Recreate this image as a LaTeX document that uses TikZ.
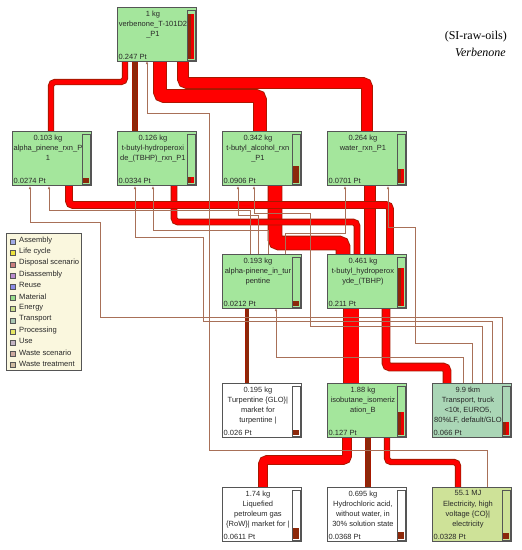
\documentclass[tikz,border=0pt]{standalone}
\usepackage{fontspec}
\setmainfont{Liberation Sans}
\newfontfamily\titlefont{Liberation Serif}
\usetikzlibrary{positioning,arrows.meta}

\definecolor{procgreen}{RGB}{164,230,156}
\definecolor{transgreen}{RGB}{170,214,182}
\definecolor{elecgreen}{RGB}{206,226,152}
\definecolor{boxgray}{RGB}{85,85,85}
\definecolor{flowred}{RGB}{255,0,0}
\definecolor{flowdark}{RGB}{165,25,0}
\definecolor{flowbrown}{RGB}{140,40,10}
\definecolor{linkbrown}{RGB}{168,112,88}
\definecolor{barbrown}{RGB}{140,40,10}
\definecolor{barred}{RGB}{235,0,0}
\definecolor{legendbg}{RGB}{250,247,222}
\definecolor{textdark}{RGB}{40,40,40}

% impact bar on the right side of a process box
\newcommand*{\impactbar}[3]{%
  \fill[barbrown] ([xshift=-9pt,yshift=3pt]#1.south east) rectangle ([xshift=-3pt,yshift={3pt+#2*45pt}]#1.south east);
  \ifnum#3=1
    \fill[barred] ([xshift=-6pt,yshift=3pt]#1.south east) rectangle ([xshift=-3pt,yshift={3pt+#2*45pt}]#1.south east);
  \fi
  \draw[barframe] ([xshift=-10pt,yshift=2pt]#1.south east) rectangle ([xshift=-2pt,yshift=-3pt]#1.north east);}

% process box: name, x, y, fill, text, score, bar fraction, red part
\newcommand*{\unitproc}[8]{%
  \node[proc, fill=#4] (#1) at (#2,#3) {};
  \node[boxtext, below=3.5pt of #1.north, xshift=-4pt] (#1txt) {#5};
  \node[score] (#1pt) at ([xshift=1.5pt,yshift=2.5pt]#1.south west) {#6};
  \impactbar{#1}{#7}{#8}}

\begin{document}
\begin{tikzpicture}
[
	x=1pt,y=-1pt,
	proc/.style={draw=boxgray,line width=0.9pt,rectangle,inner sep=0pt,minimum width=79pt,minimum height=54pt,anchor=north west},
	boxtext/.style={font=\fontsize{7.5}{10.2}\selectfont,align=center,inner sep=0pt,text=textdark},
	score/.style={font=\fontsize{7.5}{8}\selectfont,anchor=south west,inner sep=0pt,text=textdark},
	barframe/.style={draw=boxgray,line width=0.8pt},
	flow/.style={draw=flowdark,double=flowred,line width=0.9pt,double distance=#1,rounded corners=4pt},
	brownflow/.style={draw=flowdark,double=flowbrown,line width=0.6pt,double distance=#1,rounded corners=3pt},
	link/.style={draw=linkbrown,line width=0.6pt,-{Latex[length=3pt,width=2.6pt]}},
	legtext/.style={font=\fontsize{7.6}{8}\selectfont,anchor=west,inner sep=0pt,text=textdark}
]

	\useasboundingbox[fill=white] (0,0) rectangle (522,550);

	% title
	\node[font=\titlefont\fontsize{12}{13}\selectfont,anchor=east,inner sep=0pt] (title) at (507,37) {(SI-raw-oils)};
	\node[font=\titlefont\itshape\fontsize{12}{13}\selectfont,anchor=east,inner sep=0pt] (subtitle) at (506,52) {Verbenone};

	% legend
	\node[draw=boxgray,line width=0.8pt,fill=legendbg,minimum width=75pt,minimum height=137pt,anchor=north west] (legend) at (6,233) {};
	\foreach \lab/\col [count=\i from 0] in {Assembly/{160,170,230},Life cycle/{235,225,60},Disposal scenario/{200,125,125},Disassembly/{185,140,205},Reuse/{140,140,230},Material/{150,220,140},Energy/{200,220,140},Transport/{170,200,180},Processing/{230,230,100},Use/{195,180,195},Waste scenario/{205,170,160},Waste treatment/{205,185,160}}
	{
		\definecolor{legcol}{RGB}{\col}
		\node[draw=boxgray,line width=0.5pt,fill=legcol,minimum size=5pt,inner sep=0pt] (leg\i) at (12.5,{242+11.2*\i}) {};
		\node[legtext] (legt\i) at (19,{240.5+11.2*\i}) {\lab};
	}

	% connectors (drawn first, boxes on top)
	% big flows into verbenone
	\draw[flow=4.5pt] (51,131) |- (125,82) -- (125,61);
	\draw[brownflow=4.5pt] (135,131) -- (135,61);
	\draw[flow=12pt] (260,131) |- (160,96) -- (160,61);
	\draw[flow=10pt] (367,131) |- (183,83) -- (183,61);

	% tbhp outputs
	\draw[flow=13pt] (343,254) |- (275,243) -- (275,186);
	\draw[flow=5pt] (357,254) |- (174,222) -- (174,186);
	\draw[flow=10pt] (370,254) -- (370,186);
	\draw[flow=6pt] (390,254) |- (69,205) -- (69,186);

	% into tbhp
	\draw[flow=15pt] (351,383) -- (351,308);
	\draw[flow=7pt] (447,383) |- (386,367) -- (386,308);

	% into isobutane
	\draw[flow=8pt] (263,487) |- (347,460) -- (347,437);
	\draw[brownflow=4.5pt] (368,487) -- (368,437);
	\draw[flow=4.5pt] (458,487) |- (387,462) -- (387,437);

	% turpentine into alpha-pinene
	\draw[brownflow=3pt] (247,383) -- (247,308);

	% thin links from transport
	\draw[link] (502,383) |- (100,317) |- (30,222) -- (30,186);
	\draw[link] (492,383) |- (203,321) |- (135,237) -- (135,186);
	\draw[link] (482,383) |- (310,326) |- (254,213) -- (254,186);
	\draw[link] (472,383) |- (415,343) |- (388,227) -- (388,186);
	\draw[link] (463,383) |- (276,357) -- (276,308);
	% thin links from alpha-pinene in turpentine
	\draw[link] (250,254) |- (49,210) -- (49,186);
	\draw[link] (268,254) |- (153,230) -- (153,186);
	\draw[link] (258,254) |- (238,215) -- (238,186);
	\draw[link] (285,254) |- (345,233) -- (345,186);
	% thin link from electricity
	\draw[link] (487,487) |- (209,450) |- (147,113) -- (147,61);

	% process boxes
	\unitproc{verb}{117}{7}{procgreen}{1 kg\\verbenone\_T-101D2\\\_P1}{0.247 Pt}{1}{1}
	\unitproc{aprxn}{12}{131}{procgreen}{0.103 kg\\alpha\_pinene\_rxn\_P\\1}{0.0274 Pt}{0.12}{0}
	\unitproc{tbhprxn}{117}{131}{procgreen}{0.126 kg\\t-butyl-hydroperoxi\\de\_(TBHP)\_rxn\_P1}{0.0334 Pt}{0.14}{1}
	\unitproc{tba}{222}{131}{procgreen}{0.342 kg\\t-butyl\_alcohol\_rxn\\\_P1}{0.0906 Pt}{0.37}{0}
	\unitproc{water}{327}{131}{procgreen}{0.264 kg\\water\_rxn\_P1}{0.0701 Pt}{0.3}{1}
	\unitproc{apturp}{222}{254}{procgreen}{0.193 kg\\alpha-pinene\_in\_tur\\pentine}{0.0212 Pt}{0.1}{0}
	\unitproc{tbhp}{327}{254}{procgreen}{0.461 kg\\t-butyl\_hydroperox\\yde\_(TBHP)}{0.211 Pt}{0.84}{1}
	\unitproc{turp}{222}{383}{white}{0.195 kg\\Turpentine \{GLO\}|\\market for\\turpentine |}{0.026 Pt}{0.1}{0}
	\unitproc{isob}{327}{383}{procgreen}{1.88 kg\\isobutane\_isomeriz\\ation\_B}{0.127 Pt}{0.5}{1}
	\unitproc{trans}{432}{383}{transgreen}{9.9 tkm\\Transport, truck\\<10t, EURO5,\\80\%LF, default/GLO}{0.066 Pt}{0.28}{1}
	\unitproc{lpg}{222}{487}{white}{1.74 kg\\Liquefied\\petroleum gas\\\{RoW\}| market for |}{0.0611 Pt}{0.25}{0}
	\unitproc{hcl}{327}{487}{white}{0.695 kg\\Hydrochloric acid,\\without water, in\\30\% solution state}{0.0368 Pt}{0.15}{0}
	\unitproc{elec}{432}{487}{elecgreen}{55.1 MJ\\Electricity, high\\voltage \{CO\}|\\electricity}{0.0328 Pt}{0.14}{0}

\end{tikzpicture}
\end{document}
